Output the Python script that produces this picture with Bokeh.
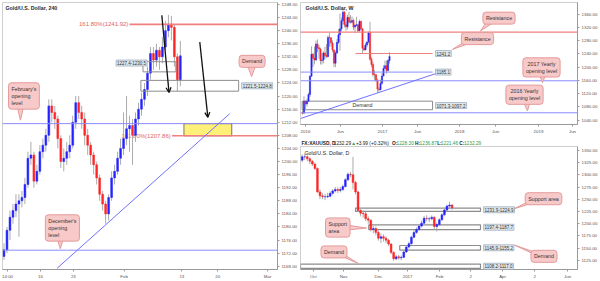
from bokeh.plotting import figure
from bokeh.layouts import row, column
from bokeh.models import (Range1d, FixedTicker, NumeralTickFormatter, Label,
                          Arrow, OpenHead, ColumnDataSource)
from bokeh.embed import file_html
from bokeh.resources import INLINE
from bokeh.core.properties import value

# ======================= DATA =======================
# ---- 240-minute panel (left) ----
L_first_open = 1171.0
L_close = [1173, 1179, 1183, 1185, 1187, 1188, 1189, 1193, 1201, 1202,
           1194, 1197, 1203, 1205, 1208, 1217, 1215, 1213, 1207, 1200,
           1201, 1203, 1205, 1212, 1218, 1215, 1213, 1208, 1205, 1202,
           1199, 1195, 1190, 1187, 1184, 1189, 1195, 1197, 1201, 1204,
           1207, 1210, 1211, 1208, 1213, 1216, 1219, 1222, 1227, 1233,
           1231, 1234, 1232, 1235, 1240, 1242, 1241, 1232, 1225, 1232.29]
L_high = [1175, 1180, 1185, 1187, 1190, 1190, 1191, 1195, 1203, 1206,
          1203, 1199, 1205, 1207, 1210, 1219, 1219, 1217, 1214, 1208,
          1204, 1206, 1208, 1214, 1220, 1220, 1217, 1215, 1210, 1206,
          1203, 1200, 1196, 1191, 1188, 1190, 1197, 1199, 1203, 1207,
          1215, 1220, 1214, 1213, 1215, 1218, 1221, 1224, 1229, 1235,
          1235, 1236, 1235, 1238, 1243, 1244.8, 1244.5, 1242, 1233, 1236.87]
L_low = [1170, 1172, 1176, 1181, 1183, 1177, 1186, 1187, 1192, 1199,
         1192, 1193, 1196, 1201, 1203, 1206, 1212, 1210, 1204, 1198,
         1197, 1199, 1201, 1204, 1210, 1213, 1210, 1205, 1202, 1199,
         1196, 1193, 1188, 1185, 1181, 1182, 1188, 1193, 1196, 1199,
         1202, 1205, 1203, 1199, 1206, 1211, 1214, 1217, 1220, 1225,
         1228, 1229, 1228, 1230, 1234, 1238, 1237, 1229, 1221.46, 1223]
L_xticks = [1.2, 12.2, 23.2, 40.2, 59.5, 71.5, 88.2]
L_xlabels = ["14:00", "16", "23", "Feb", "13", "20", "Mar"]
L_yticks = list(range(1168, 1249, 4))
L_fib_level = [1241.92, 1207.86]
L_fib_from = [42.0, 56.2]
L_fib_text = ["161.80%(1241.92)", "161.80%(1207.86)"]
L_blue_level = [1211.58, 1172.90]
L_zone_top = [1230.5, 1224.8]
L_zone_bot = [1227.4, 1221.5]
L_zone_x0 = [46.5, 45.8]
L_zone_x1 = [57.5, 78.5]
L_zone_text = ["1227.4-1230.5", "1221.5-1224.8"]
L_target_x = [60.2, 76.2]
L_target_y = [1207.86, 1211.58]
L_trend_x = [17.8, 75.5]
L_trend_y = [1167.4, 1214.6]
L_arrow_x0 = [52.8, 65.5]
L_arrow_y0 = [1244.7, 1236.5]
L_arrow_x1 = [55.2, 68.2]
L_arrow_y1 = [1221.1, 1213.5]
L_tag_text = ["1232.29", "1211.58", "1172.90"]
L_tag_y = [1232.29, 1207.86, 1172.90]
L_tag_col = ["red", "blue", "blue"]

# ---- Weekly panel (top right) ----
W_first_open = 1062.0
W_close = [1061, 1097, 1089, 1097, 1117, 1173, 1239, 1227, 1222, 1270,
           1259, 1255, 1220, 1222, 1243, 1235, 1232, 1290, 1289, 1273,
           1252, 1212, 1243, 1275, 1298, 1316, 1340, 1366, 1328, 1322,
           1350, 1336, 1336, 1341, 1321, 1326, 1328, 1310, 1338, 1316,
           1257, 1252, 1267, 1276, 1304, 1224, 1208, 1178, 1177, 1159,
           1134, 1132, 1151, 1173, 1196, 1204, 1190, 1220, 1232.29]
W_high = [1070, 1112, 1100, 1105, 1123, 1175, 1263, 1244, 1262, 1280,
          1284, 1267, 1259, 1243, 1248, 1262, 1270, 1296, 1304, 1290,
          1281, 1254, 1248, 1285, 1315, 1362, 1350, 1375, 1370, 1337,
          1358, 1368, 1357, 1353, 1347, 1331, 1352, 1331, 1344, 1341,
          1317, 1266, 1273, 1278, 1308, 1337, 1230, 1216, 1191, 1180,
          1165, 1140, 1162, 1182, 1206, 1220, 1220, 1224, 1245]
W_low = [1057, 1060, 1071, 1081, 1095, 1110, 1170, 1200, 1208, 1218,
         1246, 1226, 1208, 1208, 1212, 1225, 1228, 1229, 1262, 1262,
         1245, 1200, 1200, 1240, 1270, 1250, 1308, 1330, 1320, 1310,
         1314, 1332, 1332, 1332, 1312, 1303, 1324, 1306, 1308, 1313,
         1241, 1248, 1252, 1260, 1272, 1220, 1200, 1171, 1162, 1156,
         1122, 1124, 1130, 1147, 1175, 1196, 1180, 1187, 1211]
W_xticks = [2, 25.3, 53.3, 76.7, 104.7, 128.7, 157.3, 180]
W_xlabels = ["2016", "Jun", "2017", "Jun", "2018", "Jun", "2019", "Jun"]
W_yticks = list(range(1040, 1361, 40))
W_red_full = [1306.0]
W_red_seg = [1241.2]
W_red_seg_x = [35.3, 86.7]
W_blue_seg = [1185.1]
W_blue_seg_x = [-1.33, 86.7]
W_blue_full = [1158.9, 1062.2]
W_zone_top = [1097.2]
W_zone_bot = [1071.3]
W_zone_x = [-0.2, 86.7]
W_side_text = ["1241.2", "1185.1", "1071.3-1097.2"]
W_side_y = [1241.2, 1185.1, 1084.0]
W_trend_x = [-1.33, 96.5]
W_trend_y = [1044.8, 1192.0]
W_tag_text = ["1306.00", "1232.29", "1158.90", "1062.20"]
W_tag_y = [1306.0, 1232.29, 1158.9, 1062.2]
W_tag_col = ["red", "blue", "blue", "blue"]

# ---- Daily panel (bottom right) ----
D_first_open = 1330.0
D_close = [1337, 1337, 1333, 1328, 1322, 1313, 1265, 1257, 1255, 1255,
           1256, 1262, 1267, 1270, 1268, 1270, 1276, 1290, 1301, 1300,
           1284, 1265, 1227, 1221, 1220, 1210, 1207, 1188, 1190, 1182,
           1170, 1173, 1170, 1166, 1158, 1141, 1128, 1132, 1130, 1131,
           1142, 1152, 1159, 1172, 1182, 1188, 1195, 1201, 1211, 1210,
           1210, 1213, 1194, 1198, 1208, 1218, 1228, 1236, 1238, 1232.29]
D_high = [1342, 1343, 1340, 1336, 1330, 1325, 1315, 1270, 1262, 1261,
          1263, 1266, 1271, 1275, 1274, 1275, 1280, 1293, 1305, 1306,
          1337, 1288, 1267, 1232, 1227, 1224, 1215, 1209, 1195, 1194,
          1186, 1180, 1178, 1174, 1169, 1160, 1143, 1136, 1136, 1135,
          1146, 1156, 1163, 1175, 1186, 1192, 1199, 1206, 1216, 1217,
          1214, 1217, 1215, 1202, 1211, 1221, 1231, 1239, 1245, 1240]
D_low = [1326, 1330, 1328, 1322, 1318, 1310, 1263, 1250, 1250, 1248,
         1252, 1254, 1259, 1264, 1263, 1264, 1267, 1274, 1287, 1295,
         1270, 1260, 1224, 1215, 1212, 1205, 1200, 1184, 1180, 1176,
         1165, 1160, 1163, 1160, 1154, 1137, 1124, 1125, 1126, 1125,
         1129, 1140, 1149, 1157, 1170, 1179, 1185, 1192, 1198, 1205,
         1203, 1207, 1188, 1184, 1195, 1205, 1215, 1225, 1233, 1228]
D_xticks = [4.4, 16.3, 30.0, 41.5, 54.1, 66.3, 78.9, 91.5, 104.5]
D_xlabels = ["Oct", "Nov", "Dec", "2017", "Feb", "2", "Apr", "2", "Jun"]
D_yticks = list(range(1125, 1351, 25))
D_zone_top = [1231.9, 1197.4, 1155.2, 1117.0]
D_zone_bot = [1224.9, 1187.7, 1145.9, 1108.2]
D_zone_x0 = [21.0, 26.2, 38.4, -0.67]
D_zone_x1 = [70.2, 70.2, 70.2, 70.2]
D_zone_text = ["1231.9-1224.9", "1197.4-1187.7", "1145.9-1155.2", "1108.2-1117.0"]
D_tag_text = ["1232.29"]
D_tag_y = [1232.29]
D_tag_col = ["blue"]

# ======================= STYLE =======================
FONT = "Liberation Sans"
UP, DN, WICK = "#2424ff", "#ff2424", "#ababab"
RED_LINE, BLUE_LINE = "#f07f7f", "#8b8bff"
PINK, PINK_EDGE = "#f8c9c9", "#e59a9a"
TAG = {"red": "#f01515", "blue": "#1515ee"}
BOXLAB_BG, BOXLAB_EDGE = "#dfe7ee", "#9fb0c0"


class Frame:
    """maps page pixels of a panel's plot area to its data units"""
    def __init__(self, px0, px1, py0, py1, xr, yr):
        self.px0, self.px1, self.py0, self.py1 = px0, px1, py0, py1
        self.xr, self.yr = xr, yr

    def x(self, px):
        return self.xr[0] + (px - self.px0) * (self.xr[1] - self.xr[0]) / (self.px1 - self.px0)

    def y(self, py):
        return self.yr[1] - (py - self.py0) * (self.yr[1] - self.yr[0]) / (self.py1 - self.py0)


def make_fig(w, h, fr, mb, xticks, xlabels, yticks):
    p = figure(width=w, height=h, x_range=Range1d(*fr.xr), y_range=Range1d(*fr.yr),
               output_backend="svg", toolbar_location=None, y_axis_location="right",
               min_border_left=mb[0], min_border_right=mb[1],
               min_border_top=mb[2], min_border_bottom=mb[3])
    p.xgrid.visible = False
    p.ygrid.visible = False
    p.outline_line_color = "#cfcfcf"
    p.background_fill_color = "white"
    p.border_fill_color = "white"
    for ax in (p.xaxis[0], p.yaxis[0]):
        ax.major_label_text_font = FONT
        ax.major_label_text_font_size = "4.4px"
        ax.major_label_text_color = "#555555"
        ax.axis_line_color = "#9a9a9a"
        ax.major_tick_line_color = "#9a9a9a"
        ax.major_tick_out = 2
        ax.major_tick_in = 0
        ax.minor_tick_out = 0
        ax.minor_tick_in = 0
        ax.major_label_standoff = 2
    p.xaxis.ticker = FixedTicker(ticks=xticks)
    p.xaxis.major_label_overrides = {t: s for t, s in zip(xticks, xlabels)}
    p.yaxis.ticker = FixedTicker(ticks=yticks)
    p.yaxis.formatter = NumeralTickFormatter(format="0.00")
    return p


def candles(p, first_open, close, high, low, width):
    opens = [first_open] + close[:-1]
    col = [UP if c >= o else DN for o, c in zip(opens, close)]
    src = ColumnDataSource(dict(x=list(range(len(close))), o=opens, c=close,
                                h=high, l=low, col=col))
    p.segment("x", "h", "x", "l", source=src, line_color=WICK, line_width=1)
    p.vbar(x="x", width=width, top="o", bottom="c", source=src,
           fill_color="col", line_color="col", line_width=0.5)


def tags(p, fr, texts, ys, cols):
    for t, yv, c in zip(texts, ys, cols):
        p.add_layout(Label(x=fr.xr[1], y=yv, x_offset=2, text=t, text_align="left",
                           text_baseline="middle", text_font=FONT, text_font_size="4.4px",
                           text_color="white", background_fill_color=TAG[c],
                           padding=1))


def boxlabel(p, xv, yv, t):
    p.add_layout(Label(x=xv, y=yv, text=t, text_align="left", text_baseline="middle",
                       text_font=FONT, text_font_size="4.5px", text_color="#333333",
                       background_fill_color=BOXLAB_BG, border_line_color=BOXLAB_EDGE,
                       border_line_width=0.8, padding=1))


def bubble(p, fr, t, px, py, tail, align="center"):
    p.patch([fr.x(a) for a, b in tail], [fr.y(b) for a, b in tail],
            fill_color=PINK, line_color=PINK_EDGE, line_width=1)
    p.add_layout(Label(x=fr.x(px), y=fr.y(py), text=t, text_align=align,
                       text_baseline="middle", text_font=FONT, text_font_size="5.3px",
                       text_color="#333333", background_fill_color=PINK,
                       border_line_color=PINK_EDGE, border_line_width=1,
                       padding=3, border_radius=3))


def title(p, fr, t, px, py, bold=True):
    p.add_layout(Label(x=fr.x(px), y=fr.y(py), text=t, text_align="left",
                       text_baseline="middle", text_font=FONT, text_font_size="5.3px",
                       text_font_style="bold" if bold else "normal",
                       text_color="#2a2a2a"))


# ======================= LEFT PANEL (240) =======================
FL = Frame(2, 278, 2, 272, (-0.5, 91.5), (1167.0, 1248.6))
pL = make_fig(300, 281, FL, (2, 22, 2, 9), L_xticks, L_xlabels, L_yticks)

# fib labels sit below the price bars
pL.text(x=[f - 0.4 for f in L_fib_from], y=L_fib_level, text=L_fib_text,
        text_align="right", text_baseline="middle", text_font=value(FONT),
        text_font_size="6px", text_color="#e26464")
# target zone
pL.quad(left=[L_target_x[0]], right=[L_target_x[1]], bottom=[L_target_y[0]],
        top=[L_target_y[1]], fill_color="#fff07a", line_color="#555555", line_width=0.8)
candles(pL, L_first_open, L_close, L_high, L_low, 0.62)
# levels
for lv, x0 in zip(L_fib_level, L_fib_from):
    pL.segment(x0=[x0], y0=[lv], x1=[FL.xr[1]], y1=[lv], line_color=RED_LINE, line_width=1.6)
for lv in L_blue_level:
    pL.segment(x0=[FL.xr[0]], y0=[lv], x1=[FL.xr[1]], y1=[lv], line_color=BLUE_LINE, line_width=1)
pL.line(L_trend_x, L_trend_y, line_color="#7070ff", line_width=1)
pL.quad(left=L_zone_x0, right=L_zone_x1, bottom=L_zone_bot, top=L_zone_top,
        fill_alpha=0, line_color="#8c8c8c", line_width=1)
boxlabel(pL, FL.x(116), (L_zone_top[0] + L_zone_top[0]) / 2 - 0.4, L_zone_text[0])
boxlabel(pL, L_zone_x1[1] + 1.0, (L_zone_top[1] + L_zone_bot[1]) / 2, L_zone_text[1])
for xa, ya, xb, yb in zip(L_arrow_x0, L_arrow_y0, L_arrow_x1, L_arrow_y1):
    pL.add_layout(Arrow(end=OpenHead(size=5, line_width=1.3, line_color="#111111"),
                        x_start=xa, y_start=ya, x_end=xb, y_end=yb,
                        line_color="#111111", line_width=1.3))
bubble(pL, FL, "Demand", 252.5, 61.5, [(248, 66), (256, 66), (252, 77)])
bubble(pL, FL, "February's\nopening\nlevel", 8, 96.5, [(16, 104), (24, 104), (20, 121)], "left")
bubble(pL, FL, "December's\nopening\nlevel", 45, 230, [(56, 238), (64, 238), (60, 251)], "left")
title(pL, FL, "Gold/U.S. Dollar, 240", 5, 8)
tags(pL, FL, L_tag_text, L_tag_y, L_tag_col)

# ======================= WEEKLY PANEL =======================
FW = Frame(300, 577, 2, 127, (-1.33, 183.33), (1026.7, 1395.4))
pW = make_fig(300, 136, FW, (0, 23, 2, 9), W_xticks, W_xlabels, W_yticks)
pW.quad(left=[W_zone_x[0]], right=[W_zone_x[1]], bottom=W_zone_bot, top=W_zone_top,
        fill_color="white", fill_alpha=0.55, line_color="#8c8c8c", line_width=1)
pW.text(x=[FW.x(362)], y=[(W_zone_top[0] + W_zone_bot[0]) / 2], text=["Demand"],
        text_align="center", text_baseline="middle", text_font=value(FONT),
        text_font_size="5.3px", text_color="#333333")
candles(pW, W_first_open, W_close, W_high, W_low, 0.8)
for lv in W_red_full:
    pW.segment(x0=[FW.xr[0]], y0=[lv], x1=[FW.xr[1]], y1=[lv], line_color=RED_LINE, line_width=1.2)
pW.segment(x0=[W_red_seg_x[0]], y0=W_red_seg, x1=[W_red_seg_x[1]], y1=W_red_seg,
           line_color=RED_LINE, line_width=1.2)
pW.segment(x0=[W_blue_seg_x[0]], y0=W_blue_seg, x1=[W_blue_seg_x[1]], y1=W_blue_seg,
           line_color=BLUE_LINE, line_width=1)
for lv in W_blue_full:
    pW.segment(x0=[FW.xr[0]], y0=[lv], x1=[FW.xr[1]], y1=[lv], line_color=BLUE_LINE, line_width=1)
pW.line(W_trend_x, W_trend_y, line_color="#7070ff", line_width=1)
for t, yv in zip(W_side_text, W_side_y):
    boxlabel(pW, W_zone_x[1] + 2.0, yv, t)
bubble(pW, FW, "Resistance", 498.5, 18, [(486, 22), (494, 22), (480, 31)])
bubble(pW, FW, "Resistance", 477, 39, [(463, 43), (471, 43), (452, 50)])
bubble(pW, FW, "2017 Yearly\nopening level", 541, 68.5, [(538, 74), (546, 74), (542, 84)])
bubble(pW, FW, "2016 Yearly\nopening level", 524, 96.5, [(522, 102), (530, 102), (527, 113)])
title(pW, FW, "Gold/U.S. Dollar, W", 305, 8)
tags(pW, FW, W_tag_text, W_tag_y, W_tag_col)

# ======================= HEADER LINE =======================
pH = figure(width=300, height=10, x_range=Range1d(0, 300), y_range=Range1d(0, 10),
            output_backend="svg", toolbar_location=None,
            x_axis_location=None, y_axis_location=None,
            min_border_left=0, min_border_right=0, min_border_top=0, min_border_bottom=0)
pH.xgrid.visible = False
pH.ygrid.visible = False
pH.outline_line_color = None
GREEN = "#2e9e44"
H_parts = [("FX:XAUUSD, D", 1, "bold", "#222222"), ("1232.29", 36, "normal", "#222222"),
           ("\u25b2", 55, "normal", GREEN), ("+3.99 (+0.32%)", 60, "normal", "#222222"),
           ("O:", 99, "bold", "#222222"), ("1228.30", 104, "normal", GREEN),
           ("H:", 124, "bold", "#222222"), ("1236.87", 129, "normal", GREEN),
           ("L:", 148, "bold", "#222222"), ("1221.46", 152, "normal", GREEN),
           ("C:", 172, "bold", "#222222"), ("1232.29", 177, "normal", GREEN)]
for t, xx, st, c in H_parts:
    pH.text(x=[xx], y=[5.5], text=[t], text_align="left", text_baseline="middle",
            text_font=value(FONT), text_font_size="4.8px", text_font_style=st, text_color=c)

# ======================= DAILY PANEL =======================
FD = Frame(300, 577, 146, 272, (-0.67, 108.39), (1106.0, 1358.0))
pD = make_fig(300, 135, FD, (0, 23, 0, 9), D_xticks, D_xlabels, D_yticks)
pD.quad(left=D_zone_x0, right=D_zone_x1, bottom=D_zone_bot, top=D_zone_top,
        fill_color="white", fill_alpha=0.35, line_color="#8c8c8c", line_width=1.2)
candles(pD, D_first_open, D_close, D_high, D_low, 0.7)
for t, top_, bot_, x1 in zip(D_zone_text, D_zone_top, D_zone_bot, D_zone_x1):
    boxlabel(pD, x1 + 1.2, (top_ + bot_) / 2, t)
bubble(pD, FD, "Support area", 543, 199.5, [(527, 203), (535, 203), (513, 210)])
bubble(pD, FD, "Support\narea", 325, 229, [(343, 226), (343, 232), (366, 229.5)], "left")
bubble(pD, FD, "Demand", 333.5, 254, [(338, 257), (344, 257), (358, 266)])
bubble(pD, FD, "Demand", 543.5, 258.5, [(533, 256), (539, 256), (514, 247)])
title(pD, FD, "Gold/U.S. Dollar, D", 304, 152.5, bold=False)
tags(pD, FD, D_tag_text, D_tag_y, D_tag_col)

layout = row(pL, column(pW, pH, pD, spacing=0), spacing=0)
open("out.html", "w").write(file_html(layout, INLINE))
